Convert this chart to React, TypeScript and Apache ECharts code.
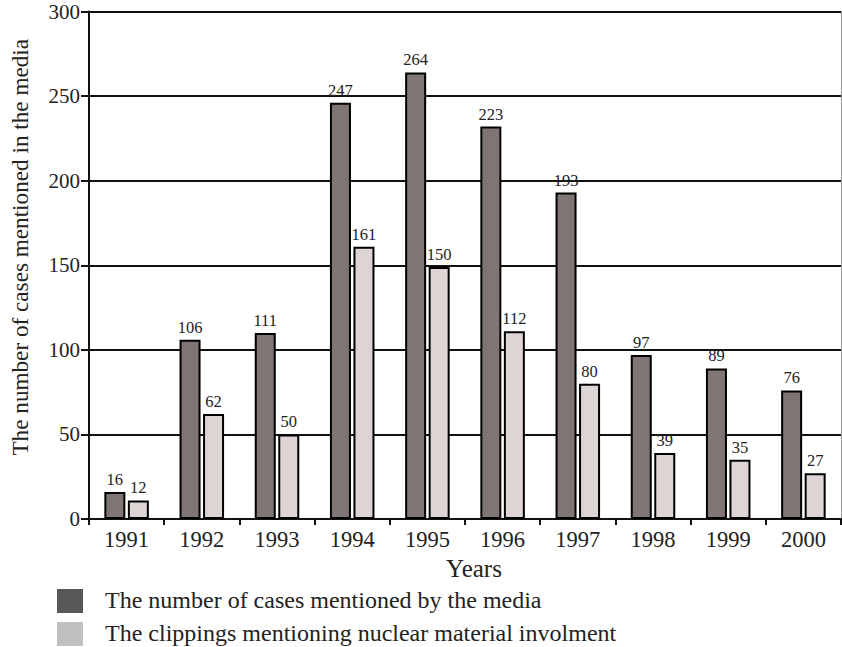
import React, { useEffect, useRef } from "react";
import * as echarts from "echarts";

const years = ["1991", "1992", "1993", "1994", "1995", "1996", "1997", "1998", "1999", "2000"];
// bar heights as drawn in the picture
const mediaCases = [16, 106, 110, 246, 264, 232, 193, 97, 89, 76];
const clippings = [11, 62, 50, 161, 149, 111, 80, 39, 35, 27];
// printed value labels
const mediaLabels = ["16", "106", "111", "247", "264", "223", "193", "97", "89", "76"];
const clippingLabels = ["12", "62", "50", "161", "150", "112", "80", "39", "35", "27"];
const seriesNames = [
  "The number of cases mentioned by the media",
  "The clippings mentioning nuclear material involment",
];
const legendColors = ["#58585a", "#c0c0c0"];

const FONT = "Liberation Serif";

export default function App() {
  const ref = useRef<HTMLDivElement>(null);
  useEffect(() => {
    if (!ref.current) return;
    const chart = echarts.init(ref.current, undefined, { renderer: "svg" });
    const legendItems = seriesNames.map((name, i) => ({
      type: "group",
      left: 57,
      top: 588 + i * 33,
      children: [
        { type: "rect", shape: { x: 0, y: 0, width: 26, height: 24 }, style: { fill: legendColors[i] } },
        {
          type: "text",
          x: 48,
          y: 11,
          style: {
            text: name,
            font: `24px ${FONT}`,
            fill: "#222",
            verticalAlign: "middle",
            align: "left",
          },
        },
      ],
    }));
    chart.setOption({
      animation: false,
      backgroundColor: "#ffffff",
      textStyle: { fontFamily: FONT, color: "#222" },
      grid: { left: 85, right: 1, top: 11.5, bottom: 128, containLabel: false },
      graphic: legendItems,
      xAxis: {
        type: "category",
        data: years,
        name: "Years",
        nameLocation: "middle",
        nameGap: 36,
        nameTextStyle: { fontFamily: FONT, fontSize: 25, color: "#222", padding: [0, 0, 0, 18] },
        axisLine: { show: true, lineStyle: { color: "#111", width: 2 } },
        axisTick: { show: true, interval: 0, length: 6, lineStyle: { color: "#111", width: 2 } },
        axisLabel: { fontFamily: FONT, fontSize: 22.5, color: "#222", margin: 9, interval: 0 },
      },
      yAxis: [
        {
          type: "value",
          min: 0,
          max: 300,
          interval: 50,
          name: "The number of cases mentioned in the media",
          nameLocation: "middle",
          nameGap: 58,
          nameTextStyle: { fontFamily: FONT, fontSize: 23.2, color: "#222", padding: [0, 0, 0, 36] },
          axisLine: { show: true, lineStyle: { color: "#111", width: 2 } },
          axisTick: { show: true, length: 8, lineStyle: { color: "#111", width: 2 } },
          axisLabel: { fontFamily: FONT, fontSize: 21, color: "#222", margin: 9 },
          splitLine: { show: true, lineStyle: { color: "#111", width: 2 } },
        },
        {
          type: "value",
          position: "right",
          min: 0,
          max: 300,
          interval: 50,
          axisLine: { show: true, lineStyle: { color: "#999", width: 1 } },
          axisTick: { show: false },
          axisLabel: { show: false },
          splitLine: { show: false },
        },
      ],
      series: [
        {
          name: seriesNames[0],
          type: "bar",
          data: mediaCases,
          barWidth: 21,
          barGap: "12%",
          itemStyle: { color: "#7f7673", borderColor: "#000", borderWidth: 2 },
          label: {
            show: true,
            position: "top",
            distance: 4,
            fontFamily: FONT,
            fontSize: 16.5,
            color: "#222",
            formatter: (p: any) => mediaLabels[p.dataIndex],
          },
        },
        {
          name: seriesNames[1],
          type: "bar",
          data: clippings,
          barWidth: 21,
          itemStyle: { color: "#ddd5d4", borderColor: "#000", borderWidth: 2 },
          label: {
            show: true,
            position: "top",
            distance: 4,
            fontFamily: FONT,
            fontSize: 16.5,
            color: "#222",
            formatter: (p: any) => clippingLabels[p.dataIndex],
          },
        },
      ],
    });
    return () => chart.dispose();
  }, []);
  return (
    <div
      ref={ref}
      style={{ position: "fixed", left: 0, top: 0, width: 842, height: 647, background: "#fff" }}
    />
  );
}
